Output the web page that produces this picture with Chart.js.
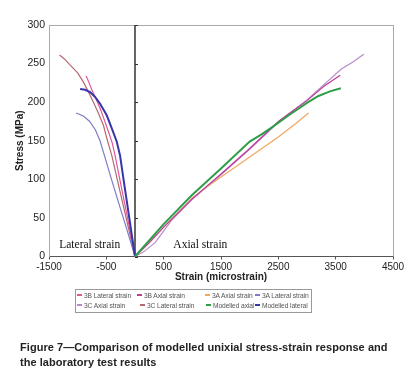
<!DOCTYPE html>
<html><head><meta charset="utf-8">
<script src="https://cdn.jsdelivr.net/npm/chart.js@4.4.0/dist/chart.umd.min.js"></script>
<style>
html,body{margin:0;padding:0;background:#fff;}
#wrap{position:relative;width:408px;height:383px;overflow:hidden;}
#c{position:absolute;left:0;top:0;}
#legend{position:absolute;left:75px;top:289px;width:237px;height:24px;border:1px solid #999;box-sizing:border-box;font:6.7px "Liberation Sans",Arial,sans-serif;color:#555;letter-spacing:-0.1px;}
.item{position:absolute;white-space:nowrap;line-height:9px;}
.item i{display:inline-block;width:5px;height:2px;vertical-align:middle;margin-right:2px;position:relative;top:-1px;}
#caption{position:absolute;left:20px;top:340px;font:bold 11px "Liberation Sans",Arial,sans-serif;color:#222;line-height:15px;white-space:nowrap;letter-spacing:0.05px;}
</style></head>
<body>
<div id="wrap">
<canvas id="c" width="408" height="383"></canvas>
<div id="legend"></div>
<div id="caption">Figure 7—Comparison of modelled unixial stress-strain response and<br>the laboratory test results</div>
</div>
<script>
// ---- data ----
const xTicks = [-1500, -500, 500, 1500, 2500, 3500, 4500];
const yTicks = [0, 50, 100, 150, 200, 250, 300];
const seriesLabels = ['3B Lateral strain', '3B Axial strain', '3A Axial strain', '3A Lateral strain',
                      '3C Axial strain', '3C Lateral strain', 'Modelled axial', 'Modelled lateral'];
// [strain (microstrain), stress (MPa)]
const lat3B = [[0,0],[-130,50],[-265,100],[-348,131],[-400,148],[-464,162],[-540,178],[-609,192],[-680,204],[-754,216],[-800,225],[-852,234]];
const ax3B  = [[0,0],[250,18],[500,38],[1000,75],[1500,107],[2000,140],[2500,175],[2700,186],[3000,202],[3300,221],[3580,235]];
const ax3A  = [[0,0],[250,18],[500,38],[750,57],[1000,76],[1250,90],[1500,103],[2000,129],[2500,155],[2800,172],[3026,186]];
const lat3A = [[0,0],[-100,25],[-205,50],[-410,100],[-530,130],[-610,150],[-690,164],[-790,175],[-900,182],[-1026,186]];
const ax3C  = [[0,0],[150,6],[350,18],[550,38],[650,48],[1000,74],[1500,106],[2000,139],[2500,174],[3000,203],[3300,223],[3600,243],[3800,252],[3990,262]];
const lat3C = [[0,0],[-155,50],[-310,100],[-405,131],[-480,150],[-551,170],[-640,186],[-725,200],[-810,213],[-899,226],[-1000,238],[-1130,248],[-1230,256],[-1317,261]];
const modAx = [[0,0],[500,42],[1000,80],[1500,114],[2000,149],[2200,158],[2400,168],[2700,184],[3000,199],[3200,208],[3400,214],[3590,218]];
const modLat= [[0,0],[-100,50],[-200,100],[-261,131],[-319,149],[-405,166],[-493,183],[-609,198],[-700,207],[-783,213],[-870,216],[-957,217]];

// ---- styles ----
const seriesData = [lat3B, ax3B, ax3A, lat3A, ax3C, lat3C, modAx, modLat];
const colors = ['#e0569a', '#c03c9c', '#f2a65e', '#7c7cc8', '#b88ac8', '#b46a70', '#2e9e4a', '#3636a8'];
const widths = [1.2, 1.2, 1.2, 1.2, 1.2, 1.2, 2, 2];
const legendCols = [[0, 60, 128, 178], [0, 63, 129, 178]];

const datasets = seriesData.map((d, i) => ({
  label: seriesLabels[i],
  data: d.map(p => ({x: p[0], y: p[1]})),
  borderColor: colors[i],
  backgroundColor: colors[i],
  borderWidth: widths[i],
  pointRadius: 0,
  tension: 0,
  fill: false,
  order: i >= 6 ? 0 : 1
}));

const decor = {
  id: 'decor',
  beforeDatasetsDraw(chart) {
    const {ctx, chartArea: a, scales: {x, y}} = chart;
    ctx.save();
    ctx.strokeStyle = '#aaa';
    ctx.lineWidth = 1;
    ctx.beginPath();
    ctx.moveTo(a.left, a.top + 0.5); ctx.lineTo(a.right + 0.5, a.top + 0.5);
    ctx.moveTo(a.right + 0.5, a.top); ctx.lineTo(a.right + 0.5, a.bottom);
    ctx.stroke();
    const x0 = x.getPixelForValue(0);
    ctx.strokeStyle = '#333';
    ctx.lineWidth = 1.5;
    ctx.beginPath();
    ctx.moveTo(x0, a.top); ctx.lineTo(x0, a.bottom);
    ctx.stroke();
    ctx.lineWidth = 1;
    ctx.beginPath();
    yTicks.forEach(v => {
      const py = Math.round(y.getPixelForValue(v)) + 0.5;
      ctx.moveTo(x0, py); ctx.lineTo(x0 + 3, py);
    });
    ctx.stroke();
    ctx.fillStyle = '#111';
    ctx.font = '11.5px "Liberation Serif", "Times New Roman", serif';
    ctx.textAlign = 'center';
    ctx.textBaseline = 'middle';
    ctx.fillText('Lateral strain', x.getPixelForValue(-790), y.getPixelForValue(15));
    ctx.fillText('Axial strain', x.getPixelForValue(1140), y.getPixelForValue(15));
    ctx.restore();
  }
};

new Chart(document.getElementById('c'), {
  type: 'line',
  data: {datasets},
  options: {
    responsive: false,
    animation: false,
    layout: {padding: {left: 0, right: 15, top: 25, bottom: 100}},
    plugins: {legend: {display: false}, tooltip: {enabled: false}},
    scales: {
      x: {
        type: 'linear', min: -1500, max: 4500,
        afterBuildTicks: s => { s.ticks = xTicks.map(v => ({value: v})); },
        afterFit: s => { s.height = 26.5; },
        border: {color: '#555', width: 1},
        grid: {drawOnChartArea: false, drawTicks: true, tickLength: 3, color: '#555'},
        ticks: {color: '#222', font: {family: '"Liberation Sans", Arial, sans-serif', size: 10}, padding: 2, maxRotation: 0, autoSkip: false,
                callback: v => String(v)},
        title: {display: true, text: 'Strain (microstrain)', color: '#222', font: {family: '"Liberation Sans", Arial, sans-serif', size: 10, weight: 'bold'}, padding: 0}
      },
      y: {
        type: 'linear', min: 0, max: 300,
        afterBuildTicks: s => { s.ticks = yTicks.map(v => ({value: v})); },
        afterFit: s => { s.width = 49; },
        border: {color: '#aaa', width: 1},
        grid: {drawOnChartArea: false, drawTicks: false},
        ticks: {color: '#222', font: {family: '"Liberation Sans", Arial, sans-serif', size: 10.5}, padding: 4, callback: v => String(v)},
        title: {display: true, text: 'Stress (MPa)', color: '#222', font: {family: '"Liberation Sans", Arial, sans-serif', size: 10, weight: 'bold'}, padding: {top: 14, bottom: 0}}
      }
    }
  },
  plugins: [decor]
});

// HTML legend built from the dataset labels and colours
const leg = document.getElementById('legend');
seriesLabels.forEach((lab, i) => {
  const row = i < 4 ? 0 : 1;
  const el = document.createElement('div');
  el.className = 'item';
  el.style.left = (legendCols[row][i % 4] + 1) + 'px';
  el.style.top = (row === 0 ? 1 : 11) + 'px';
  el.innerHTML = '<i style="background:' + colors[i] + '"></i>' + lab;
  leg.appendChild(el);
});
</script>
</body></html>
